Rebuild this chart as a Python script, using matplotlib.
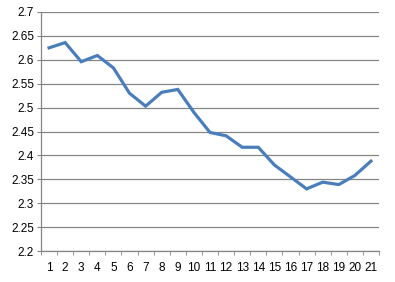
import matplotlib
matplotlib.use("Agg")
import matplotlib.pyplot as plt

categories = list(range(1, 22))
values = [2.625, 2.636, 2.596, 2.609, 2.583, 2.530, 2.503, 2.532, 2.538, 2.490,
          2.448, 2.441, 2.417, 2.417, 2.380, 2.355, 2.330, 2.344, 2.339, 2.358, 2.388]
y_ticks = [2.2, 2.25, 2.3, 2.35, 2.4, 2.45, 2.5, 2.55, 2.6, 2.65, 2.7]
y_labels = ["2.2", "2.25", "2.3", "2.35", "2.4", "2.45", "2.5", "2.55", "2.6", "2.65", "2.7"]

plt.rcParams["font.family"] = ["Liberation Sans", "DejaVu Sans"]

fig = plt.figure(figsize=(3.95, 2.82), dpi=100)
ax = fig.add_axes([41 / 395, 1 - 251 / 282, 338 / 395, 239 / 282])

ax.plot(categories, values, color="#4A7EBB", linewidth=2.3, solid_joinstyle="miter")

ax.set_xlim(0.5, 21.5)
ax.set_ylim(2.2, 2.7)
ax.set_yticks(y_ticks)
ax.set_yticklabels(y_labels)
ax.set_xticks(categories)
ax.set_xticklabels([str(c) for c in categories])
ax.set_xticks([c + 0.5 for c in [0] + categories], minor=True)

ax.grid(axis="y", color="#868686", linewidth=0.9)
ax.set_axisbelow(True)
for side in ["top", "right"]:
    ax.spines[side].set_visible(False)
for side in ["left", "bottom"]:
    ax.spines[side].set_color("#868686")
    ax.spines[side].set_linewidth(0.9)

ax.tick_params(axis="y", length=3, color="#868686", labelsize=8.5, pad=2)
ax.tick_params(axis="x", which="major", length=0, labelsize=8.5, pad=8)
ax.tick_params(axis="x", which="minor", length=3, color="#868686")

fig.savefig("out.png", dpi=100)
